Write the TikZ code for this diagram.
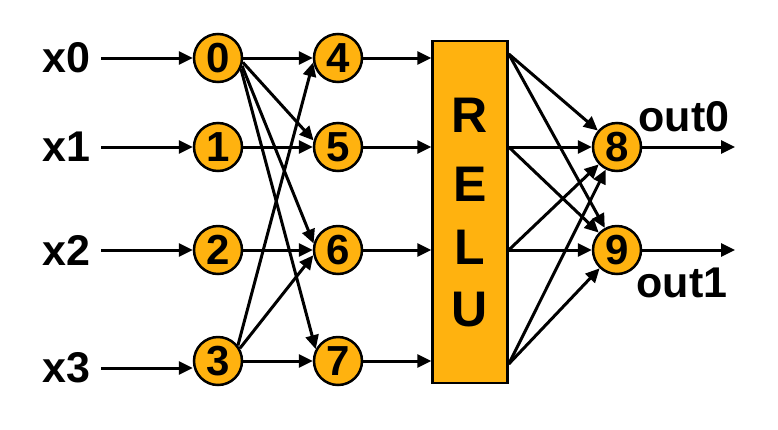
\documentclass[tikz,border=0pt]{standalone}
\usepackage{fontspec}
\setmainfont{Liberation Sans}
\usetikzlibrary{arrows.meta}
\definecolor{gold}{RGB}{255,178,15}
\tikzset{
  neuron/.style={circle,draw=black,fill=gold,line width=2.5pt,minimum size=48pt,inner sep=0pt,font=\fontsize{42}{42}\selectfont\bfseries},
  lbl/.style={inner sep=0pt,font=\fontsize{43}{43}\selectfont\bfseries},
  relubox/.style={rectangle,draw=black,fill=gold,line width=2.5pt,minimum width=75pt,minimum height=342pt,inner sep=0pt},
  relut/.style={inner sep=0pt,font=\fontsize{50}{50}\selectfont\bfseries},
  arr/.style={line width=3pt,-{Triangle[length=14pt,width=13pt]}},
}
\begin{document}
\begin{tikzpicture}[x=1pt,y=-1pt]
\useasboundingbox (0,0) rectangle (778,429);
% labels
\node[lbl,anchor=east] (x0) at (91,58) {x0};
\node[lbl,anchor=east] (x1) at (91,147) {x1};
\node[lbl,anchor=east] (x2) at (91,250) {x2};
\node[lbl,anchor=east] (x3) at (91,368) {x3};
% layer 1
\node[neuron] (c0) at (218,58) {0};
\node[neuron] (c1) at (218,147) {1};
\node[neuron] (c2) at (218,250) {2};
\node[neuron] (c3) at (218,361) {3};
% layer 2
\node[neuron] (c4) at (338,58) {4};
\node[neuron] (c5) at (338,147) {5};
\node[neuron] (c6) at (338,250) {6};
\node[neuron] (c7) at (338,361) {7};
% RELU
\node[relubox] (relu) at (470,212) {};
\node[relut] (tR) at (470,115) {R};
\node[relut] (tE) at (470,184) {E};
\node[relut] (tL) at (470,247) {L};
\node[relut] (tU) at (470,310) {U};
% outputs
\node[neuron] (c8) at (617,147) {8};
\node[neuron] (c9) at (617,250) {9};
\coordinate (o0) at (735,147);
\coordinate (o1) at (735,250);
\node[lbl] (out0) at (684,117) {out0};
\node[lbl] (out1) at (682,283) {out1};
% relu out coords
\coordinate (r0) at ([yshift=4pt]c4 -| relu.east);
\coordinate (r1) at (c5 -| relu.east);
\coordinate (r2) at (c6 -| relu.east);
\coordinate (r3) at ([yshift=-3pt]c7 -| relu.east);
% input arrows
\draw[arr] ([xshift=10pt]x0.east) -- (c0.west);
\draw[arr] ([xshift=10pt]x1.east) -- (c1.west);
\draw[arr] ([xshift=10pt]x2.east) -- (c2.west);
\draw[arr] ([xshift=10pt]x3.east) -- (x3.east -| c3.west);
% butterfly
\draw[arr] (c0.east) -- (c4.west);
\draw[arr] (c0.-10) -- (c5.165);
\draw[arr] (c0.-18) -- (c6.165);
\draw[arr] (c0.-25) -- (c7.152);
\draw[arr] (c1.east) -- (c5.west);
\draw[arr] (c2.east) -- (c6.west);
\draw[arr] (c3.east) -- (c7.west);
\draw[arr] (c3.38) -- (c4.190);
\draw[arr] (c3.30) -- (c6.192);
% into relu
\draw[arr] (c4.east) -- (c4 -| relu.west);
\draw[arr] (c5.east) -- (c5 -| relu.west);
\draw[arr] (c6.east) -- (c6 -| relu.west);
\draw[arr] (c7.east) -- (c7 -| relu.west);
% relu to 8,9
\foreach \r in {r0,r1,r2,r3}{
  \draw[arr] (\r) -- (c8);
  \draw[arr] (\r) -- (c9);
}
% out arrows
\draw[arr] (c8.east) -- (o0);
\draw[arr] (c9.east) -- (o1);
\end{tikzpicture}
\end{document}
